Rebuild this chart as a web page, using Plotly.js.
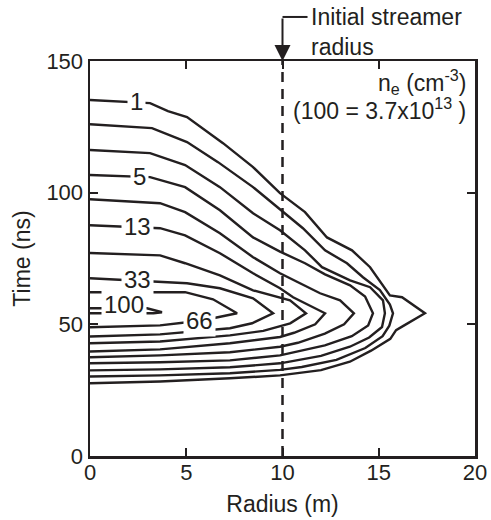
<!DOCTYPE html>
<html><head><meta charset="utf-8">
<script src="https://cdn.plot.ly/plotly-3.0.1.min.js"></script>
<style>html,body{margin:0;padding:0;background:#fff}</style>
</head><body><div id="chart" style="width:491px;height:520px"></div>
<script>
// Contour lines of electron density (outermost first), radius (m) vs time (ns)
const c1_r = [0,3.12,4.05,5.04,6.91,8.47,9.87,11.17,12.31,13.61,14.55,15.58,16.21,17.40,16.3,15.9,15.6,14.6,13.5,12.0,9.87,7.27,3.64,0];
const c1_t = [135.2,134.0,131.0,128.7,118.8,109.7,99.8,92.6,83.0,78.1,71.7,61.0,60.3,54.2,49.5,47.8,44.5,40.0,35.8,32.6,30.6,29.5,28.3,27.6];
const c2_r = [0,3.22,5.04,6.65,8.47,9.87,11.06,12.21,13.35,14.18,15.06,15.58,15.74,15.55,15.2,14.3,12.8,11.0,9.87,7.27,3.64,0];
const c2_t = [126.0,124.5,119.2,111.6,102.1,93.7,86.5,78.1,73.2,67.9,63.0,57.5,54.2,49.5,45.5,41.0,36.5,33.8,32.7,31.4,30.6,30.2];
const c3_r = [0,3.12,4.94,6.75,8.47,9.87,11.17,12.05,13.51,14.55,15.22,15.32,15.17,14.5,13.5,12.0,9.87,7.27,3.64,0];
const c3_t = [116.2,115.0,110.5,102.1,92.2,85.7,78.1,71.7,66.7,64.1,59.1,54.2,49.0,45.0,41.5,38.0,35.2,33.7,32.9,32.5];
const c4_r = [0,3.12,4.94,6.75,8.47,9.87,11.17,12.21,13.51,14.29,14.70,14.45,13.6,12.2,9.87,7.27,3.64,0];
const c4_t = [106.7,105.9,102.1,93.3,83.0,77.6,73.2,69.0,64.8,60.6,54.2,49.6,45.5,42.0,38.2,36.3,35.6,35.2];
const c5_r = [0,3.64,4.94,6.75,8.47,9.87,10.91,11.95,12.99,13.71,13.2,12.2,10.8,9.87,7.27,3.64,0];
const c5_t = [97.5,96.0,92.6,84.6,75.5,69.4,65.6,61.8,59.1,54.2,50.0,46.5,43.0,41.5,39.4,38.2,37.5];
const c6_r = [0,3.64,4.94,6.75,8.47,9.87,10.55,11.58,12.21,11.7,10.6,9.87,7.27,3.64,0];
const c6_t = [87.6,86.5,83.8,77.0,69.4,63.7,60.3,56.5,54.2,50.0,46.8,45.2,42.8,40.5,39.7];
const c7_r = [0,3.64,4.94,6.75,8.47,9.87,10.39,11.22,10.4,9.0,7.27,3.64,0];
const c7_t = [77.1,76.2,73.2,68.6,62.9,60.3,59.1,54.2,50.4,47.5,45.8,43.5,42.8];
const c8_r = [0,3.64,5.04,6.75,8.47,9.51,8.42,7.27,3.64,0];
const c8_t = [67.5,66.0,65.6,63.7,59.9,54.2,50.4,48.5,46.2,45.4];
const c9_r = [0,4.94,6.39,7.64,6.39,5.04,3.64,0];
const c9_t = [62.2,62.2,59.5,54.2,52.3,50.8,49.6,48.9];
const c10_r = [0,2.96,3.74,3.3,0];
const c10_t = [56.1,56.1,54.6,54.2,54.2];

// Contour labels
const labelText = ['1','5','13','33','100','66'];
const labelR = [2.39,2.55,2.49,2.49,1.77,5.71];
const labelT = [134.8,106.3,87.3,67.1,57.6,51.5];

// Initial streamer radius (m)
const streamerRadius = 10;
const xTicks = [0,5,10,15,20];
const yTicks = [0,50,100,150];

const INK = '#231f20';
const FONT = '"Liberation Sans", Arial, Helvetica, sans-serif';

const contours = [[c1_r,c1_t],[c2_r,c2_t],[c3_r,c3_t],[c4_r,c4_t],[c5_r,c5_t],
                  [c6_r,c6_t],[c7_r,c7_t],[c8_r,c8_t],[c9_r,c9_t],[c10_r,c10_t]];

const traces = contours.map(([r,t]) => ({
  type:'scatter', mode:'lines', x:r, y:t,
  line:{color:INK, width:2.4}, hoverinfo:'skip', showlegend:false
}));
traces.push({
  type:'scatter', mode:'lines', x:[streamerRadius, streamerRadius], y:[yTicks[0], yTicks[yTicks.length-1]],
  line:{color:INK, width:2.5, dash:'10px,7px'}, hoverinfo:'skip', showlegend:false
});

const annotations = labelText.map((s,i) => ({
  x:labelR[i], y:labelT[i], xref:'x', yref:'y', text:s, showarrow:false,
  bgcolor:'white', borderpad:2, font:{size:24, color:INK}
}));

annotations.push({
  x:streamerRadius, y:150, xref:'x', yref:'y', ax:0, ay:-44, text:'',
  showarrow:true, arrowhead:2, arrowsize:1.6, arrowwidth:2, arrowcolor:INK
});
annotations.push({
  x:11.4, xref:'x', xanchor:'left', y:1.149, yref:'paper', yanchor:'top', align:'left',
  text:'Initial streamer<br>radius', showarrow:false, font:{size:23, color:INK}
});
annotations.push({
  x:0.982, xref:'paper', xanchor:'right', y:0.948, yref:'paper', yanchor:'middle',
  text:'n<sub>e</sub> (cm<sup>-3</sup>)', showarrow:false, font:{size:23, color:INK}
});
annotations.push({
  x:0.982, xref:'paper', xanchor:'right', y:0.878, yref:'paper', yanchor:'middle',
  text:'(100 = 3.7x10<sup>13</sup> )', showarrow:false, font:{size:23, color:INK}
});

const axisCommon = {
  ticks:'inside', ticklen:8, tickwidth:2, tickcolor:INK,
  showline:true, linewidth:2.5, linecolor:INK, mirror:'ticks',
  showgrid:false, zeroline:false, tickfont:{size:22, color:INK}
};

const layout = {
  width:491, height:520,
  margin:{l:90, r:16, t:61, b:64},
  paper_bgcolor:'white', plot_bgcolor:'white', showlegend:false,
  font:{family:FONT, color:INK, size:22},
  xaxis:Object.assign({}, axisCommon, {range:[0,20], tickvals:xTicks, ticklabelstandoff:-5,
    title:{text:'Radius (m)', font:{size:23, color:INK}, standoff:12}}),
  yaxis:Object.assign({}, axisCommon, {range:[0,150], tickvals:yTicks,
    title:{text:'Time (ns)', font:{size:23, color:INK}, standoff:10}}),
  shapes:[{type:'line', xref:'x', yref:'paper', x0:streamerRadius, x1:11.3, y0:1.1115, y1:1.1115,
           line:{color:INK, width:2}}],
  annotations:annotations
};

Plotly.newPlot('chart', traces, layout, {displayModeBar:false, staticPlot:true});
</script></body></html>
